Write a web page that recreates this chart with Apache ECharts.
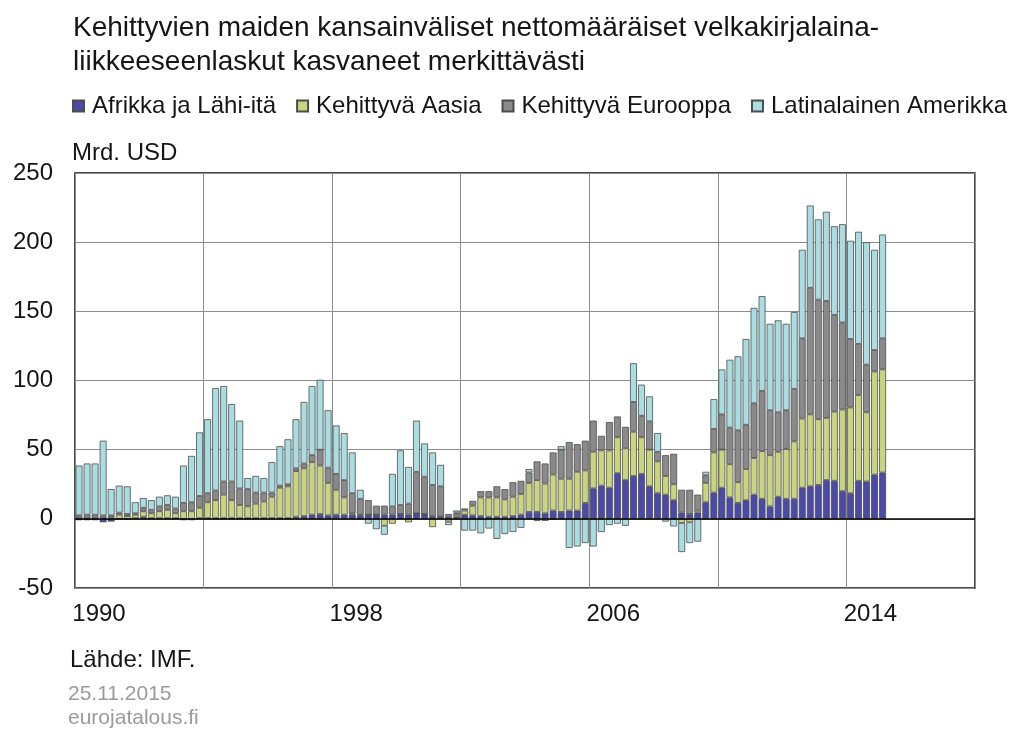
<!DOCTYPE html>
<html lang="fi">
<head>
  <meta charset="UTF-8">
  <title>velkakirjalainaliikkeeseenlaskut</title>
  <style>
    html, body { margin: 0; padding: 0; background: #fff; }
    #chart { width: 1024px; height: 731px; }
  </style>
</head>
<body>
  <div id="chart"></div>
  <script src="https://cdn.jsdelivr.net/npm/echarts@6/dist/echarts.min.js"></script>
  <script>
    // neljännesvuodet 1990Q1 -> 2015Q1, mrd. USD
    var firstYear = 1990;
    var lastYear = 2017; // akseli jatkuu vuoden 2017 loppuun
    var afrikka = [-1, -1, -1, -2.5, -2, 0, 0, 0.5, 1.5, 0.5, 0.5, 0.5, 0.5, -1, -1, 0.5,
      0.5, 0.5, 0.5, 0.5, 0.5, 0.5, 0.5, 0.5, 0.5, 0.5, 0.5, 1.5, 2, 3, 3.5, 2.5,
      3, 3, 3, 2.5, 3, 3, 3, 3, 3.5, 3, 4, 3.5, 2, 1.5, 1.5, 1.5,
      3, 2.5, 2, 1.5, 1.5, 1.5, 2, 3, 5, 5, 4, 6, 5, 6, 6, 11.5,
      22, 24, 22.5, 33, 28, 31, 32.5, 23.5, 18.5, 17.5, 13.5, 4.5, 3.5, 4.5, 12, 19,
      22.5, 15.5, 11.5, 13.5, 17.5, 14.5, 9, 16, 14.5, 14.5, 22.5, 23.5, 24.5, 28, 27.5, 20,
      18.5, 27.5, 27, 32, 33.5];
    var aasia = [0.5, 0.5, 0.5, 0.5, 1, 3, 2, 2.5, 4, 3.5, 5, 6, 3.5, 5.5, 5.5, 7.5,
      11.5, 13, 17, 13, 9.5, 8.5, 10.5, 12, 15.5, 22, 23, 33, 34.5, 38, 35, 23.5,
      18, 12.5, 1, 0.5, 0, 0, -5, -3.5, 0, -2.5, 0, 0, -6, 0, -2, 1.5,
      3, 7, 13.5, 14, 14, 12.5, 14, 15, 21, 23, 21.5, 26, 24, 23, 28, 23.5,
      26.5, 25.5, 27, 26, 23, 32, 26.5, 26.5, 23, 13.5, 11.5, -3, -2.5, 1.5, 14, 29,
      27.5, 24, 15, 22.5, 26.5, 34.5, 37, 32.5, 36, 41.5, 50, 52, 47.5, 45, 50, 59,
      62, 62, 50, 74.5, 74.5];
    var eurooppa = [2, 2.5, 2.5, 2, 1.5, 1.5, 1.5, 1, 2.5, 2.5, 3.5, 3.5, 3.5, 6, 6.5, 8.5,
      6.5, 7, 9.5, 13.5, 12, 12.5, 8, 6.5, 3, 1.5, 1.5, 2, 3.5, 5, 11.5, 11,
      11.5, 12.5, 14.5, 11.5, 10.5, 6.5, 6.5, 6, 6.5, 8, 30, 27, 22.5, 22, 2, 1.5,
      1.5, 3.5, 4.5, 4.5, 8, 7.5, 10.5, 9.5, 7.5, 13.5, 14.5, 16, 21, 26.5, 20, 21.5,
      22.5, 10.5, 20.5, 15, 15.5, 21.5, 15.5, 20.5, 7, 15, 22, 16.5, 17.5, 11.5, 5.5, 17,
      25.5, 26.5, 37.5, 32, 39.5, 43.5, 32.5, 28.5, 28, 38, 58, 91.5, 86.5, 84.5, 70, 63,
      49.5, 37, 34.5, 15.5, 22.5];
    var latinalainen = [36, 37, 37, 54, 19, 19.5, 20, 8, 7, 7, 7, 7, 8.5, 27, 33.5, 46,
      53.5, 74, 69, 56, 49, 8, 12, 10.5, 22, 28.5, 32.5, 35.5, 44.5, 50, 50.5, 41.5,
      35, 34, 29.5, 6.5, -3.5, -7.5, -6.5, 23.5, 39.5, 26.5, 37, 24, 23.5, 15.5, -2.5, 1.5,
      -8.5, -8.5, -10.5, -7, -14.5, -11, -9.5, -6.5, 2.5, -1.5, -1.5, -0.5, 2.5, -21, -20, -17.5,
      -20, -9.5, -4.5, -3.5, -5, 28, 22.5, 18, 13.5, -2, -5.5, -21, -15, -16.5, 2.5, 21.5,
      32.5, 49, 53.5, 62, 69, 68.5, 62.5, 66.5, 62.5, 55.5, 64, 59.5, 58, 64.5, 64, 71,
      71, 81, 88.5, 72.5, 75];
    var seriesNames = ['Afrikka ja Lähi-itä', 'Kehittyvä Aasia', 'Kehittyvä Eurooppa', 'Latinalainen Amerikka'];
    var seriesColors = ['#4a4aa8', '#c8d47e', '#8a8a8a', '#a9dde2'];

    var quarters = [];
    for (var y = firstYear; y <= lastYear; y++) {
      for (var q = 1; q <= 4; q++) quarters.push(y + 'Q' + q);
    }

    var font = 'Liberation Sans, Arial, sans-serif';
    var chart = echarts.init(document.getElementById('chart'));

    var series = [afrikka, aasia, eurooppa, latinalainen].map(function (arr, k) {
      var s = {
        name: seriesNames[k],
        type: 'bar',
        stack: 'total',
        barCategoryGap: '14%',
        data: arr,
        itemStyle: { color: seriesColors[k], borderColor: '#4d4d4d', borderWidth: 0.8 },
        emphasis: { disabled: true }
      };
      if (k === 0) {
        s.markLine = {
          silent: true,
          symbol: 'none',
          label: { show: false },
          lineStyle: { color: '#000', width: 1.5, type: 'solid' },
          data: [{ yAxis: 0 }]
        };
      }
      return s;
    });

    chart.setOption({
      animation: false,
      textStyle: { fontFamily: font },
      title: {
        text: 'Kehittyvien maiden kansainväliset nettomääräiset velkakirjalaina-\nliikkeeseenlaskut kasvaneet merkittävästi',
        left: 68,
        top: 6,
        textStyle: { fontSize: 28, fontWeight: 'normal', color: '#151515', lineHeight: 34, fontFamily: font }
      },
      legend: {
        left: 72,
        top: 94,
        width: 950,
        padding: 0,
        itemWidth: 11,
        itemHeight: 11,
        itemGap: 20,
        icon: 'rect',
        textStyle: { fontSize: 24, color: '#151515', padding: [0, 0, 0, 3] },
        data: seriesNames
      },
      grid: {
        left: 75, right: 49, top: 173, bottom: 143,
        show: true, borderColor: '#111', borderWidth: 1.5
      },
      xAxis: {
        type: 'category',
        data: quarters,
        boundaryGap: true,
        axisLine: { show: false },
        axisTick: { show: false },
        splitLine: {
          show: true,
          interval: function (i) { return i % 16 === 0; },
          lineStyle: { color: '#8c8c8c', width: 1 }
        },
        axisLabel: {
          fontSize: 24,
          color: '#151515',
          margin: 14,
          padding: [0, 0, 0, 40],
          interval: function (i) { return i % 32 === 0; },
          formatter: function (v) { return v.slice(0, 4); }
        }
      },
      yAxis: {
        type: 'value',
        min: -50,
        max: 250,
        interval: 50,
        axisLine: { show: false },
        axisTick: { show: false },
        splitLine: { show: true, lineStyle: { color: '#8c8c8c', width: 1 } },
        axisLabel: { fontSize: 24, color: '#151515', margin: 22 }
      },
      graphic: [
        { type: 'text', left: 72, top: 141, style: { text: 'Mrd. USD', fontSize: 24, fill: '#151515', fontFamily: font } },
        { type: 'text', left: 70, top: 648, style: { text: 'Lähde: IMF.', fontSize: 24, fill: '#151515', fontFamily: font } },
        { type: 'text', left: 68, top: 684, style: { text: '25.11.2015', fontSize: 21, fill: '#9a9a9a', fontFamily: font } },
        { type: 'text', left: 68, top: 708, style: { text: 'eurojatalous.fi', fontSize: 21, fill: '#9a9a9a', fontFamily: font } }
      ],
      series: series
    });
  </script>
</body>
</html>
